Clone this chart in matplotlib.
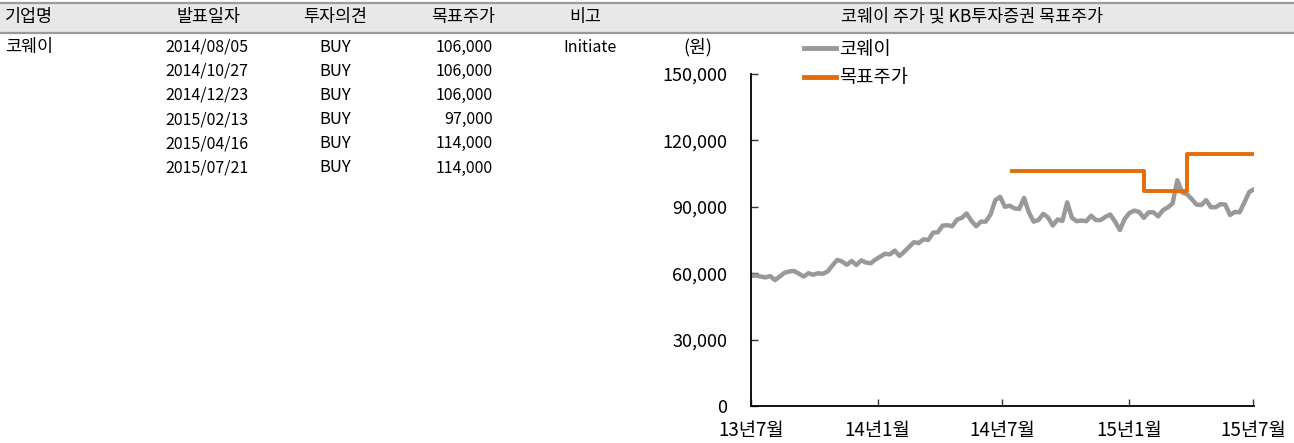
import matplotlib
matplotlib.use('Agg')
import matplotlib.pyplot as plt
from matplotlib.lines import Line2D
from matplotlib.patches import Rectangle
import pandas as pd

plt.rcParams['font.family'] = ['Noto Sans CJK KR', 'DejaVu Sans']

# table data
table_cols = ['기업명', '발표일자', '투자의견', '목표주가', '비고']
company = '코웨이'
report_dates = ['2014/08/05', '2014/10/27', '2014/12/23', '2015/02/13', '2015/04/16', '2015/07/21']
opinions = ['BUY', 'BUY', 'BUY', 'BUY', 'BUY', 'BUY']
targets = [106000, 106000, 106000, 97000, 114000, 114000]
notes = ['Initiate', '', '', '', '', '']

# weekly share price
price_start = '2013/07/22'
price_end = '2015/07/23'
price = [58700, 59000, 58500, 58100, 58700, 56900, 58500, 60200, 60800, 61000,
         59800, 58500, 60000, 59300, 60000, 59700, 60800, 63500, 66000, 65300,
         63800, 65500, 63700, 65800, 64800, 64500, 66200, 67500, 68800, 68500,
         70200, 67800, 69700, 71900, 74000, 73600, 75300, 75000, 78300, 78500,
         81500, 81700, 81200, 84200, 85000, 87000, 83700, 81200, 83300, 83300,
         86500, 93000, 94500, 90000, 90500, 89300, 89000, 94000, 87500, 83300,
         84000, 86800, 85200, 81500, 84300, 83600, 92000, 85000, 83500, 83800,
         83500, 86000, 84000, 84000, 85500, 86500, 83300, 79500, 84500, 87200,
         88300, 87700, 85000, 87500, 87500, 85700, 88500, 89700, 91500, 102000,
         96500, 95700, 93500, 91000, 90800, 93000, 89800, 89800, 91200, 91000,
         86300, 87700, 87500, 92000, 96700, 97900]
price_dates = pd.date_range(pd.Timestamp(price_start), pd.Timestamp(price_end), periods=len(price))

tick_dates = ['2013/07/22', '2014/01/22', '2014/07/22', '2015/01/22', '2015/07/22']
tick_labels = ['13년7월', '14년1월', '14년7월', '15년1월', '15년7월']
y_ticks = [0, 30000, 60000, 90000, 120000, 150000]

gray = '#999999'
orange = '#E46C0A'

fig = plt.figure(figsize=(12.94, 4.43), dpi=100)

# header band
H = 443.0
W = 1294.0
fig.patches.append(Rectangle((0, 1 - 33 / H), 1, 30 / H, transform=fig.transFigure,
                             facecolor='#E8E8E8', edgecolor='none', zorder=0))
for yy in [3, 33]:
    fig.add_artist(Line2D([0, 1], [1 - yy / H, 1 - yy / H], transform=fig.transFigure,
                          color='#9A9A9A', lw=1.6))

kfs = 12.5  # korean text
nfs = 11.5  # numbers / latin
hy = 1 - 17 / H
fig.text(5 / W, hy, table_cols[0], ha='left', va='center', fontsize=kfs)
fig.text(208 / W, hy, table_cols[1], ha='center', va='center', fontsize=kfs)
fig.text(335 / W, hy, table_cols[2], ha='center', va='center', fontsize=kfs)
fig.text(463 / W, hy, table_cols[3], ha='center', va='center', fontsize=kfs)
fig.text(585 / W, hy, table_cols[4], ha='center', va='center', fontsize=kfs)
fig.text(972 / W, hy, '코웨이 주가 및 KB투자증권 목표주가', ha='center', va='center', fontsize=kfs)

# table rows
fig.text(5 / W, 1 - 47 / H, company, ha='left', va='center', fontsize=kfs)
for i in range(len(report_dates)):
    ry = 1 - (47 + i * 24.2) / H
    fig.text(207 / W, ry, report_dates[i], ha='center', va='center', fontsize=nfs)
    fig.text(335 / W, ry, opinions[i], ha='center', va='center', fontsize=12)
    fig.text(493 / W, ry, f'{targets[i]:,}', ha='right', va='center', fontsize=nfs)
    if notes[i]:
        fig.text(590 / W, ry, notes[i], ha='center', va='center', fontsize=nfs)

# chart
ax = fig.add_axes([751 / W, 1 - 406 / H, 503 / W, 332 / H])
ax.plot(price_dates, price, color=gray, lw=3.2, label='코웨이', solid_joinstyle='round')

tgt_dates = pd.to_datetime(report_dates + [price_end], format='%Y/%m/%d')
tgt_vals = targets + [targets[-1]]
ax.step(tgt_dates, tgt_vals, where='post', color=orange, lw=2.8, label='목표주가')

ax.set_xlim(pd.Timestamp(price_start), pd.Timestamp(price_end))
ax.set_ylim(0, 150000)
ax.set_yticks(y_ticks)
ax.set_yticklabels([f'{v:,}' for v in y_ticks], fontsize=13)
ax.set_xticks(pd.to_datetime(tick_dates, format='%Y/%m/%d'))
ax.set_xticklabels(tick_labels, fontsize=13.5)
ax.tick_params(axis='both', direction='in', length=5, width=1, color='#333333')
ax.tick_params(axis='y', pad=17)
ax.tick_params(axis='x', pad=10)
for s in ['top', 'right']:
    ax.spines[s].set_visible(False)
for s in ['left', 'bottom']:
    ax.spines[s].set_linewidth(1.3)
ax.patch.set_alpha(0)

fig.text(698 / W, 1 - 47 / H, '(원)', ha='center', va='center', fontsize=13)

leg = ax.legend(loc='upper left', bbox_to_anchor=(45 / 503, 1 + 43 / 332), frameon=False,
                fontsize=13.5, handlelength=1.75, handletextpad=0.15, labelspacing=0.42,
                borderaxespad=0)
for h in leg.get_lines():
    h.set_linewidth(3.5)

fig.savefig('out.png', dpi=100)
